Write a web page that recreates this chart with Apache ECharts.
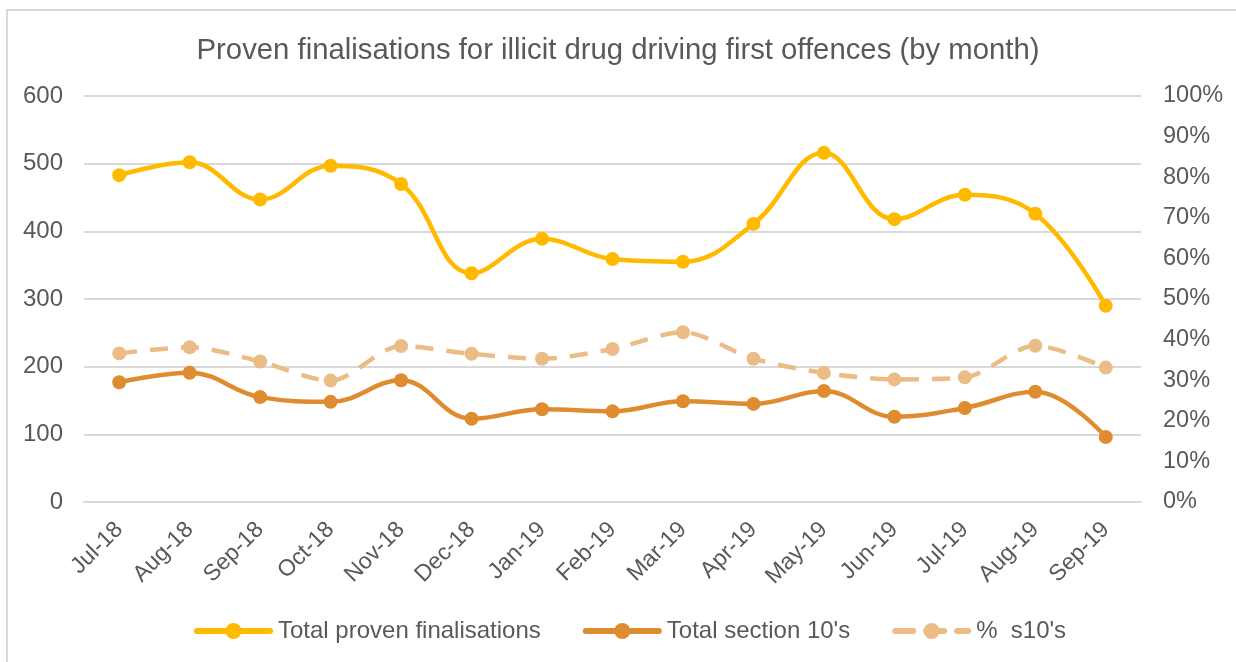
<!DOCTYPE html>
<html>
<head>
<meta charset="utf-8">
<script src="https://cdn.jsdelivr.net/npm/echarts@6/dist/echarts.min.js"></script>
<style>
html,body{margin:0;padding:0;background:#fff;}
#frame{position:absolute;left:6px;top:9px;width:1240px;height:660px;border:2px solid #d9d9d9;box-sizing:border-box;}
#chart{position:absolute;left:0;top:0;width:1236px;height:662px;}
</style>
</head>
<body>
<div id="frame"></div>
<div id="chart"></div>
<script>
var categories = ['Jul-18','Aug-18','Sep-18','Oct-18','Nov-18','Dec-18','Jan-19','Feb-19','Mar-19','Apr-19','May-19','Jun-19','Jul-19','Aug-19','Sep-19'];
var totalProven = [483, 502, 447, 497, 470, 338, 389, 359, 355, 411, 516, 418, 454, 426, 290];
var totalS10 = [177, 191, 155, 148, 180, 123, 137, 134, 149, 145, 164, 126, 139, 163, 96];
var pctS10 = [0.366, 0.381, 0.346, 0.299, 0.384, 0.365, 0.353, 0.377, 0.418, 0.353, 0.318, 0.302, 0.307, 0.385, 0.331];
var leftTicks = {min: 0, max: 600, interval: 100};
var rightTicks = {min: 0, max: 1, interval: 0.1};

var chart = echarts.init(document.getElementById('chart'));
var txt = '#595959';
var font = 'Liberation Sans, Arial, sans-serif';
chart.setOption({
  animation: false,
  title: {
    text: 'Proven finalisations for illicit drug driving first offences (by month)',
    left: 'center', top: 31,
    textStyle: {color: txt, fontSize: 29.3, fontWeight: 'normal', fontFamily: font}
  },
  legend: {
    bottom: 14, left: 189, itemWidth: 73, itemHeight: 20, itemGap: 42,
    textStyle: {color: txt, fontSize: 24, fontFamily: font, padding: [0, 0, 0, 3]},
    lineStyle: {width: 6, cap: 'round'},
    data: ['Total proven finalisations', "Total section 10's", "%  s10's"]
  },
  grid: {left: 84, right: 95, top: 96, bottom: 160},
  xAxis: {
    type: 'category', data: categories, boundaryGap: true,
    axisLine: {lineStyle: {color: '#d9d9d9', width: 2}},
    axisTick: {show: false},
    axisLabel: {rotate: 45, color: txt, fontSize: 23, fontFamily: font, margin: 24, interval: 0}
  },
  yAxis: [{
    type: 'value', min: leftTicks.min, max: leftTicks.max, interval: leftTicks.interval,
    axisLine: {show: false}, axisTick: {show: false},
    axisLabel: {color: txt, fontSize: 24, fontFamily: font, margin: 21},
    splitLine: {lineStyle: {color: '#d9d9d9', width: 2}}
  }, {
    type: 'value', min: rightTicks.min, max: rightTicks.max, interval: rightTicks.interval,
    axisLine: {show: false}, axisTick: {show: false},
    axisLabel: {color: txt, fontSize: 23.5, fontFamily: font, margin: 22,
      formatter: function(v){ return Math.round(v*100) + '%'; }},
    splitLine: {show: false}
  }],
  series: [{
    name: 'Total proven finalisations', type: 'line', data: totalProven, yAxisIndex: 0,
    smooth: 0.4, symbol: 'circle', symbolSize: 14,
    itemStyle: {color: '#FFBA00'}, lineStyle: {color: '#FFBA00', width: 4.5},
    markLine: {
      silent: true, symbol: 'none', label: {show: false},
      lineStyle: {color: '#FFBA00', type: [4, 3], width: 1},
      data: [[{coord: ['May-19', 603]}, {coord: ['May-19', 24]}]]
    },
    z: 3
  }, {
    name: "Total section 10's", type: 'line', data: totalS10, yAxisIndex: 0,
    smooth: 0.4, symbol: 'circle', symbolSize: 14,
    itemStyle: {color: '#DE8C2F'}, lineStyle: {color: '#DE8C2F', width: 4.5},
    z: 2
  }, {
    name: "%  s10's", type: 'line', data: pctS10, yAxisIndex: 1,
    smooth: 0.3, symbol: 'circle', symbolSize: 14,
    itemStyle: {color: '#ECBC86'}, lineStyle: {color: '#ECBC86', width: 4.5, type: [18, 13]},
    z: 1
  }]
});
</script>
</body>
</html>
